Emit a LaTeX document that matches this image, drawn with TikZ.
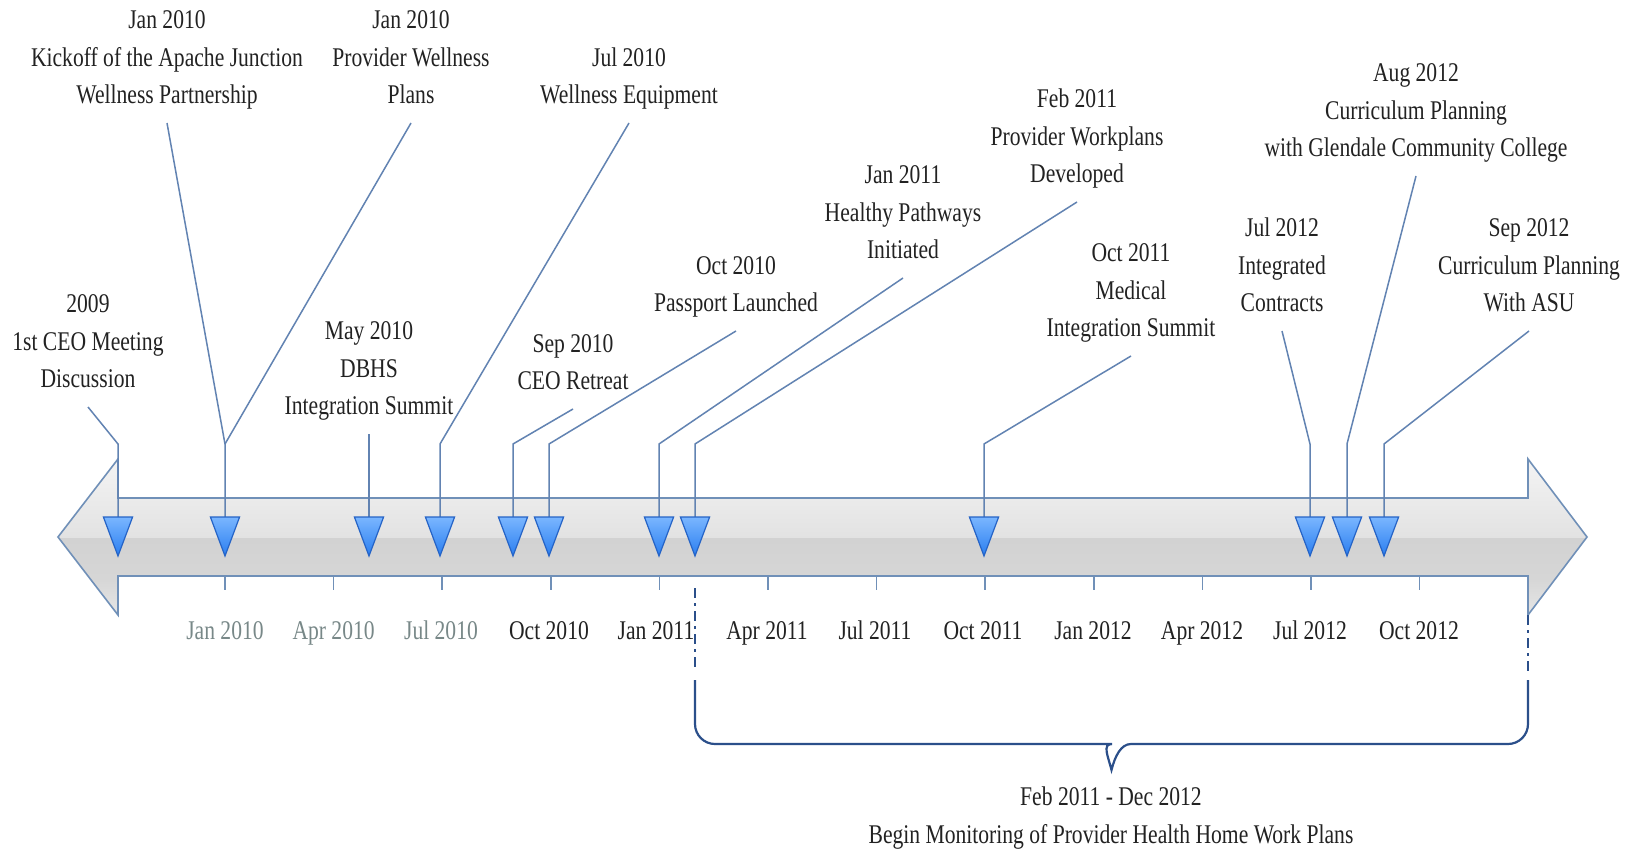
\documentclass[tikz,border=0pt]{standalone}
\usepackage{fontspec}
\setmainfont{Liberation Serif}[FakeStretch=0.8]
\definecolor{connc}{HTML}{6283B2}
\definecolor{outl}{HTML}{7090B8}
\definecolor{brc}{HTML}{2B4F8A}
\definecolor{txt}{HTML}{222222}
\definecolor{txtg}{HTML}{788888}
\definecolor{mka}{HTML}{7AB6FF}
\definecolor{mkb}{HTML}{2A7EF0}
\definecolor{mkd}{HTML}{2563C6}
\definecolor{bandA}{HTML}{F4F4F4}
\definecolor{bandB}{HTML}{E2E2E2}
\definecolor{bandC}{HTML}{D2D2D2}
\definecolor{bandD}{HTML}{D6D6D6}
\definecolor{bandE}{HTML}{E6E6E6}
\newcommand{\evmark}[2]{%
  \coordinate (#2) at (#1,517);
  \shadedraw[top color=mka, bottom color=mkb, draw=mkd, line width=0.6pt, line join=miter]
    ({#1-14.6},517) -- ({#1+14.6},517) -- (#1,556) -- cycle;}
\begin{document}
\begin{tikzpicture}[x=0.5pt,y=-0.5pt,
  lab/.style={align=center, font=\fontsize{13.5}{18.75}\selectfont, text=txt,
    inner xsep=2pt, inner ysep=7pt, text depth=0.25em, text height=0.75em, anchor=south},
  ticklab/.style={font=\fontsize{13.5}{16}\selectfont, text=txt, anchor=base, inner sep=0pt},
  ticklabg/.style={ticklab, text=txtg},
  conn/.style={draw=connc, line width=0.75pt},
  tick/.style={draw=outl, line width=0.8pt},
  brace/.style={draw=brc, line width=1.1pt},
  dashln/.style={draw=brc, line width=0.7pt, dash pattern=on 5pt off 2.5pt on 1.5pt off 2.5pt}]
\useasboundingbox (0,0) rectangle (1639,851);
\fill[white] (0,0) rectangle (1639,851);

% timeline arrow body
\begin{scope}
\clip (118,498) -- (1528,498) -- (1528,459) -- (1587,537) -- (1528,615) -- (1528,576)
  -- (118,576) -- (118,615) -- (58,537) -- (118,459) -- cycle;
\shade[top color=bandA, bottom color=bandB] (40,459) rectangle (1600,538);
\shade[top color=bandC, bottom color=bandD] (40,538) rectangle (1600,578);
\shade[top color=bandD, bottom color=bandE] (40,578) rectangle (1600,616);
\end{scope}
\draw[outl, line width=0.8pt, line join=miter]
  (118,498) -- (1528,498) -- (1528,459) -- (1587,537) -- (1528,615) -- (1528,576)
  -- (118,576) -- (118,615) -- (58,537) -- (118,459) -- cycle;

% ticks
\foreach \k in {0,...,11} {
  \draw[tick] ({225+108.6*\k},576) -- ({225+108.6*\k},590);
}
\node[ticklabg] (t0) at (225,639) {Jan 2010};
\node[ticklabg] (t1) at (333.6,639) {Apr 2010};
\node[ticklabg] (t2) at (441,639) {Jul 2010};
\node[ticklab] (t3) at (549,639) {Oct 2010};
\node[ticklab] (t4) at (656,639) {Jan 2011};
\node[ticklab] (t5) at (767,639) {Apr 2011};
\node[ticklab] (t6) at (875,639) {Jul 2011};
\node[ticklab] (t7) at (983,639) {Oct 2011};
\node[ticklab] (t8) at (1093,639) {Jan 2012};
\node[ticklab] (t9) at (1202,639) {Apr 2012};
\node[ticklab] (t10) at (1310,639) {Jul 2012};
\node[ticklab] (t11) at (1419,639) {Oct 2012};

% event labels
\node[lab] (e1) at (88,407) {2009\\1st CEO Meeting\\Discussion};
\node[lab] (e2) at (167,123) {Jan 2010\\Kickoff of the Apache Junction\\Wellness Partnership};
\node[lab] (e3) at (411,123) {Jan 2010\\Provider Wellness\\Plans};
\node[lab] (e4) at (369,434) {May 2010\\DBHS\\Integration Summit};
\node[lab] (e5) at (629,123) {Jul 2010\\Wellness Equipment};
\node[lab] (e6) at (573,409) {Sep 2010\\CEO Retreat};
\node[lab] (e7) at (736,331) {Oct 2010\\Passport Launched};
\node[lab] (e8) at (903,278) {Jan 2011\\Healthy Pathways\\Initiated};
\node[lab] (e9) at (1077,202) {Feb 2011\\Provider Workplans\\Developed};
\node[lab] (e10) at (1131,356) {Oct 2011\\Medical\\Integration Summit};
\node[lab] (e11) at (1282,331) {Jul 2012\\Integrated\\Contracts};
\node[lab] (e12) at (1416,176) {Aug 2012\\Curriculum Planning\\with Glendale Community College};
\node[lab] (e13) at (1529,331) {Sep 2012\\Curriculum Planning\\With ASU};

% bend coordinates
\coordinate (b1) at (118,444);
\coordinate (b2) at (225,444);
\coordinate (b5) at (440,444);
\coordinate (b6) at (513,444);
\coordinate (b7) at (549,444);
\coordinate (b8) at (659,444);
\coordinate (b9) at (695,444);
\coordinate (b10) at (984,444);
\coordinate (b11) at (1310,444);
\coordinate (b12) at (1347,444);
\coordinate (b13) at (1384,444);

% marker anchor coordinates (tops of triangles)
\coordinate (m1) at (118,517);
\coordinate (m2) at (225,517);
\coordinate (m3) at (369,517);
\coordinate (m4) at (440,517);
\coordinate (m5) at (513,517);
\coordinate (m6) at (549,517);
\coordinate (m7) at (659,517);
\coordinate (m8) at (695,517);
\coordinate (m9) at (984,517);
\coordinate (m10) at (1310,517);
\coordinate (m11) at (1347,517);
\coordinate (m12) at (1384,517);

% connectors
\draw[conn] (e1.south) -- (b1) -- (m1);
\draw[conn] (e2.south) -- (b2) -- (m2);
\draw[conn] (e3.south) -- (b2);
\draw[conn] (e4.south) -- (m3);
\draw[conn] (e5.south) -- (b5) -- (m4);
\draw[conn] (e6.south) -- (b6) -- (m5);
\draw[conn] (e7.south) -- (b7) -- (m6);
\draw[conn] (e8.south) -- (b8) -- (m7);
\draw[conn] (e9.south) -- (b9) -- (m8);
\draw[conn] (e10.south) -- (b10) -- (m9);
\draw[conn] (e11.south) -- (b11) -- (m10);
\draw[conn] (e12.south) -- (b12) -- (m11);
\draw[conn] (e13.south) -- (b13) -- (m12);

% markers
\evmark{118}{k1}
\evmark{225}{k2}
\evmark{369}{k3}
\evmark{440}{k4}
\evmark{513}{k5}
\evmark{549}{k6}
\evmark{659}{k7}
\evmark{695}{k8}
\evmark{984}{k9}
\evmark{1310}{k10}
\evmark{1347}{k11}
\evmark{1384}{k12}

% span brace
\coordinate (d1a) at (695,588);
\coordinate (d1b) at (695,668);
\coordinate (d2a) at (1528,615);
\coordinate (d2b) at (1528,673);
\draw[dashln] (d1a) -- (d1b);
\draw[dashln] (d2a) -- (d2b);
\draw[brace] (695,680) [rounded corners=10pt] -- (695,744) -- (1092,744) [sharp corners]
  .. controls (1102,744) and (1108,756) .. (1111.5,770)
  .. controls (1115,756) and (1121,744) .. (1131,744) [rounded corners=10pt] -- (1528,744) -- (1528,680);
\node[lab, anchor=base, inner ysep=0pt, text depth=, text height=] (span) at (1111,843) {Feb 2011 - Dec 2012\\Begin Monitoring of Provider Health Home Work Plans};
\end{tikzpicture}
\end{document}
